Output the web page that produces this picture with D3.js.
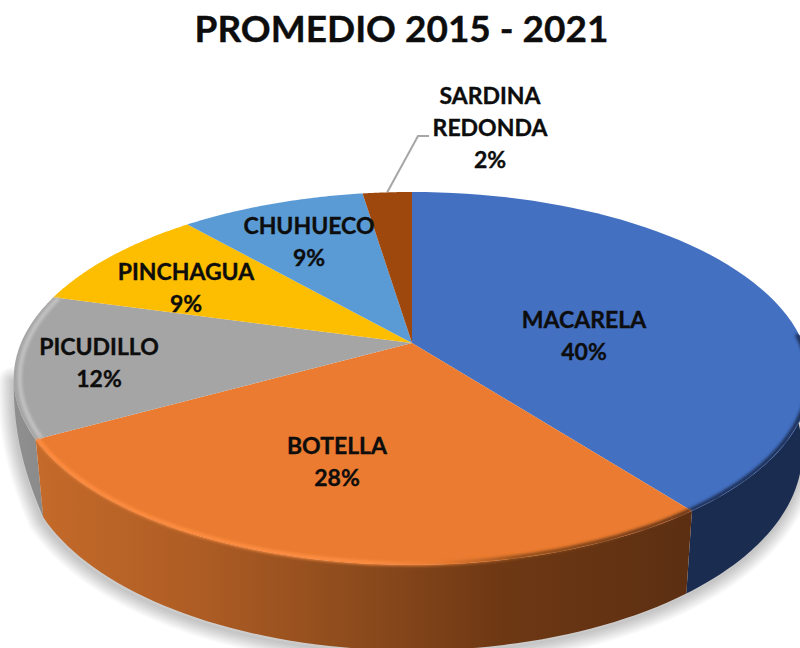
<!DOCTYPE html>
<html><head><meta charset="utf-8">
<script src="https://cdn.jsdelivr.net/npm/d3@7/dist/d3.min.js"></script>
<style>html,body{margin:0;padding:0;background:#fff;overflow:hidden}svg{display:block}text{font-family:Lato,"Open Sans",sans-serif;font-weight:700;fill:#0d0d0d;stroke:#0d0d0d;stroke-width:.35px}</style>
</head><body><div id="chart"></div>
<script>
const title = "PROMEDIO 2015 - 2021";
const categories = ["MACARELA","BOTELLA","PICUDILLO","PINCHAGUA","CHUHUECO","SARDINA REDONDA"];
const values = [39.6,27.3,12.4,9.3,9.0,2.4];
const percentLabels = ["40%","28%","12%","9%","9%","2%"];
const colors = ["#4370c1","#ea7b30","#a5a5a5","#fdbd00","#5b9bd5","#9e480e"];

const W=800,H=648;
const svg=d3.select("#chart").append("svg").attr("width",W).attr("height",H);
const defs=svg.append("defs");

// perspective projection of the pie disc
const apex=[412,343], A=391, B=179.7, K=0.19;
const shrink=0.98;
function topPt(t){const x=Math.sin(t),y=-Math.cos(t),d=1-K*y;
  return [apex[0]+A*x/d, apex[1]+B*y/d];}
function botPt(t,s=shrink,f=1){const x=Math.sin(t),y=-Math.cos(t),d=1-K*y;
  return [apex[0]+s*A*x/d, apex[1]+f*(70+20*y)+s*B*y/d];}
const line=d3.line();
const arcs=d3.pie().sort(null)(values);
const samples=(a,b)=>d3.range(0,61).map(i=>a+(b-a)*i/60);

defs.append("filter").attr("id","rim").attr("x","-20%").attr("y","-20%").attr("width","140%").attr("height","140%")
  .append("feGaussianBlur").attr("stdDeviation",1.5);

const leftLimit=259*Math.PI/180;
// outer edge of the left wall: tapers into the disc's silhouette
const greyStart=arcs[2].startAngle;
const wallPt=t=>{const q=Math.max(0,Math.min(1,(t-greyStart)/(leftLimit-greyStart)));
  const p=botPt(t,shrink+(1-shrink)*q,1-q);
  return [p[0]-3*Math.sin(q*Math.PI),p[1]];};

// ground shadow: stacked soft outlines around the solid's lower edge
const full=samples(0,2*Math.PI);
const shadowArc=samples(Math.PI/2-0.2,arcs[1].endAngle).map(t=>botPt(t))
  .concat(samples(greyStart,leftLimit).map(t=>wallPt(t)));
const shadowG=svg.append("g").attr("fill","none").attr("stroke","#000").attr("stroke-linejoin","round").attr("stroke-linecap","round");
d3.range(2,30,3).forEach(w=>{
  shadowG.append("path").attr("d",line(shadowArc.map(p=>[p[0]-1,p[1]+3])))
    .attr("stroke-width",w).attr("stroke-opacity",.022);
});

// side gradients
const sideStops=[
  [[0,"#1a2c50"],[1,"#1a2c50"]],
  [[0,"#c46a2a"],[.25,"#ad5c24"],[.5,"#8b4a1c"],[.71,"#6e3814"],[1,"#5c2f12"]],
  [[0,"#8f8f8f"],[1,"#8a8a8a"]]
];
sideStops.forEach((st,i)=>{
  const g=defs.append("linearGradient").attr("id","side"+i).attr("gradientUnits","userSpaceOnUse")
    .attr("x1",i==1?40:14).attr("x2",i==1?690:50).attr("y1",0).attr("y2",0);
  st.forEach(s=>g.append("stop").attr("offset",s[0]).attr("stop-color",s[1]));
});
// side walls, back to front
const walls=[
  [2,greyStart,leftLimit,wallPt],
  [0,Math.PI/2-0.05,arcs[0].endAngle,t=>botPt(t)],
  [1,arcs[1].startAngle,arcs[1].endAngle,t=>botPt(t)]
];
walls.forEach(([i,a,b,fn])=>{
  const ts=samples(a,b);
  const pts=ts.map(t=>topPt(t)).concat(ts.slice().reverse().map(fn));
  svg.append("path").attr("d",line(pts)+"Z").attr("fill",`url(#side${i})`);
});

// top faces
const face=svg.append("g");
arcs.forEach((a,i)=>{
  const pts=[apex].concat(samples(a.startAngle,a.endAngle).map(t=>topPt(t)));
  face.append("path").attr("d",line(pts)+"Z").attr("fill",colors[i]);
});
// bevelled rim along the front edge
const cp=defs.append("clipPath").attr("id","solid");
cp.append("path").attr("d",line(full.map(t=>topPt(t)))+"Z");
walls.forEach(([i,a,b,fn])=>{const ts=samples(a,b);
  cp.append("path").attr("d",line(ts.map(t=>topPt(t)).concat(ts.slice().reverse().map(fn)))+"Z");});
const rimG=svg.append("g").attr("clip-path","url(#solid)");
const hi=defs.append("linearGradient").attr("id","rimOrange").attr("gradientUnits","userSpaceOnUse")
  .attr("x1",40).attr("x2",690).attr("y1",0).attr("y2",0);
[[0,"#ff8c3f"],[.5,"#ff8f43"],[.62,"#e87a2f"],[.74,"#8a4a1a"],[1,"#5c2f12"]].forEach(s=>hi.append("stop").attr("offset",s[0]).attr("stop-color",s[1]));
const rimDefs=[[0,"#1a2c50",Math.PI/2-0.05],[1,"url(#rimOrange)",null],[2,"#c4c4c4",null]];
rimDefs.forEach(([i,c,start])=>{
  const a=arcs[i];
  const ts=samples(start==null?a.startAngle:Math.max(a.startAngle,start),a.endAngle);
  const inset=i==2?3:1;
  rimG.append("path").attr("d",line(ts.map(t=>{const p=topPt(t);
      return [p[0]+(apex[0]-p[0])*inset/200,p[1]+(apex[1]-p[1])*inset/200];})))
    .attr("fill","none").attr("stroke",c).attr("stroke-width",4).attr("filter","url(#rim)");
});

// leader line (from the last slice's outer edge)
const smallMid=(arcs[5].startAngle+arcs[5].endAngle)/2;
const lp=topPt(smallMid);
svg.append("path").attr("d",line([lp,[418,136],[429,136]]))
  .attr("fill","none").attr("stroke","#a6a6a6").attr("stroke-width",2);

// title
svg.append("text").attr("x",401.5).attr("y",42).attr("text-anchor","middle").attr("font-size",37).text(title);

// data labels
const labelAnchors=[[584,328],[337,454],[99,355],[186,280],[309,234],[490,104]];
const fs=23;
categories.forEach((c,i)=>{
  const lines=(i==5?c.split(" "):[c]).concat([percentLabels[i]]);
  const t=svg.append("text").attr("text-anchor","middle").attr("font-size",fs);
  lines.forEach((l,j)=>t.append("tspan").attr("x",labelAnchors[i][0]).attr("y",labelAnchors[i][1]+j*32).text(l));
});
</script></body></html>
